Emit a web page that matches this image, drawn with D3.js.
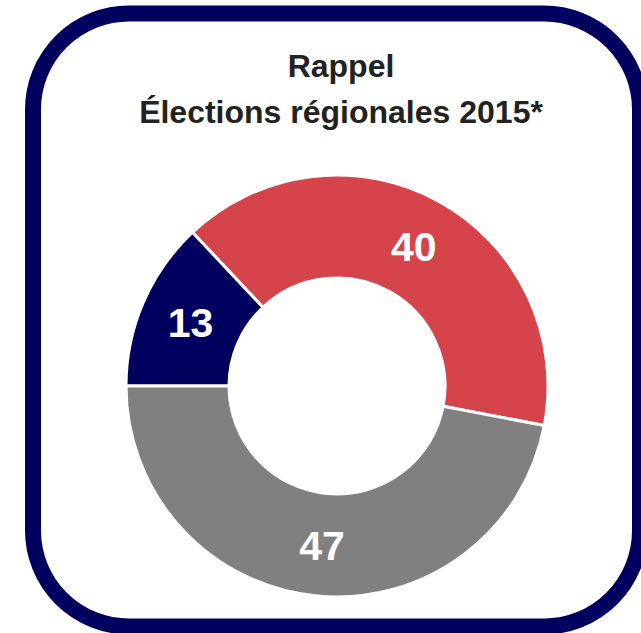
<!DOCTYPE html>
<html lang="fr">
<head>
    <meta charset="utf-8">
    <title>Rappel Élections régionales 2015</title>
    <script src="https://cdn.jsdelivr.net/npm/d3@7"></script>
    <style>
        body { margin: 0; background: #fff; }
        svg { display: block; }
    </style>
</head>
<body>
    <svg id="chart" width="641" height="633"></svg>

    <script>
        // data
        const parties = ["gauche", "droite", "autres"];
        const scores = [13, 40, 47];
        const colors = ["#00005e", "#d5444b", "#808080"];
        const titleLines = ["Rappel", "Élections régionales 2015*"];

        const svg = d3.select("#chart");

        // rounded frame
        svg.append("rect")
            .attr("x", 33)
            .attr("y", 13.5)
            .attr("width", 607)
            .attr("height", 613)
            .attr("rx", 96)
            .attr("fill", "#fff")
            .attr("stroke", "#00005e")
            .attr("stroke-width", 16);

        // title
        svg.selectAll("text.title")
            .data(titleLines)
            .enter()
            .append("text")
            .attr("class", "title")
            .attr("x", 341)
            .attr("y", (d, i) => 77 + i * 46)
            .attr("text-anchor", "middle")
            .style("font-family", "'Liberation Sans', Arial, sans-serif")
            .style("font-weight", "bold")
            .style("font-size", "32px")
            .attr("fill", "#222")
            .text(d => d);

        // donut
        const cx = 337, cy = 386;
        const pie = d3.pie()
            .sort(null)
            .startAngle(-Math.PI / 2)
            .endAngle(1.5 * Math.PI);
        const arc = d3.arc().innerRadius(108).outerRadius(211);

        const g = svg.append("g").attr("transform", `translate(${cx},${cy})`);
        const arcs = pie(scores);

        g.selectAll("path")
            .data(arcs)
            .enter()
            .append("path")
            .attr("d", arc)
            .attr("fill", (d, i) => colors[i])
            .attr("stroke", "#fff")
            .attr("stroke-width", 3);

        g.selectAll("text.val")
            .data(arcs)
            .enter()
            .append("text")
            .attr("class", "val")
            .attr("transform", d => `translate(${arc.centroid(d)})`)
            .attr("dy", "0.36em")
            .attr("text-anchor", "middle")
            .style("font-family", "'Liberation Sans', Arial, sans-serif")
            .style("font-weight", "bold")
            .style("font-size", "41px")
            .attr("fill", "#fff")
            .text(d => d.data);
    </script>
</body>
</html>
